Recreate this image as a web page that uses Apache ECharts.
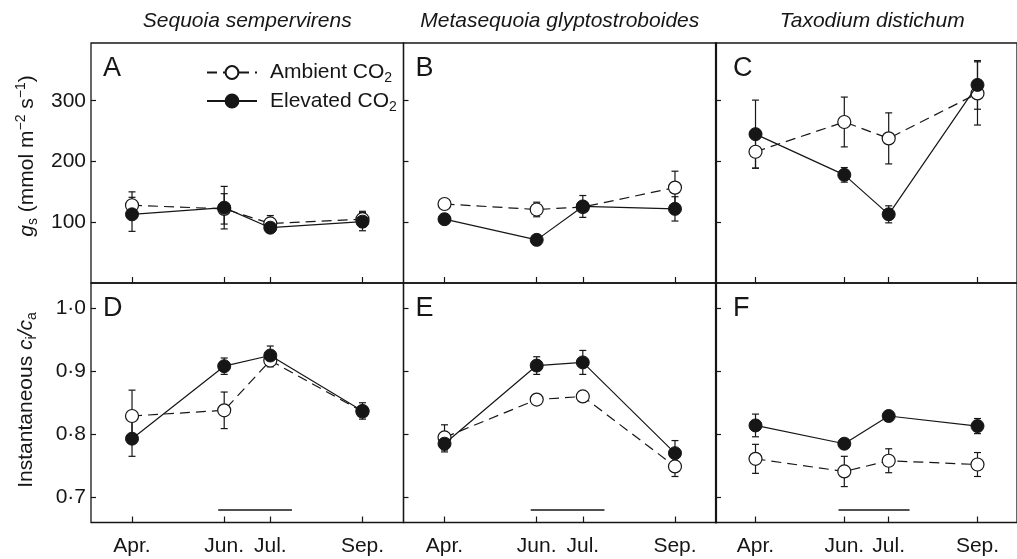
<!DOCTYPE html>
<html>
<head>
<meta charset="utf-8">
<script src="https://cdn.jsdelivr.net/npm/echarts@6/dist/echarts.min.js"></script>
<style>
  html, body { margin: 0; padding: 0; background: #fff; }
  #chart { width: 1017px; height: 559px; }
</style>
</head>
<body>
<div id="chart"></div>
<script>
// sampling months (x position in months) and their labels
const months = [4, 6, 7, 9];
const monthLabels = ['Apr.', 'Jun.', 'Jul.', 'Sep.'];

// stomatal conductance gs (mmol m-2 s-1), mean and error
const sequoiaGsAmb = [128, 122, 98, 105];
const sequoiaGsAmbErr = [22, 25, 13, 13];
const sequoiaGsElev = [113, 124, 91, 101];
const sequoiaGsElevErr = [28, 35, 6, 15];
const metaGsAmb = [130, 121, 125, 157];
const metaGsAmbErr = [4, 12, 8, 27];
const metaGsElev = [105, 71, 126, 122];
const metaGsElevErr = [4, 4, 18, 20];
const taxoGsAmb = [216, 265, 238, 312];
const taxoGsAmbErr = [27, 41, 42, 52];
const taxoGsElev = [245, 178, 113, 326];
const taxoGsElevErr = [56, 12, 14, 40];

// instantaneous ci/ca
const sequoiaCiAmb = [0.829, 0.838, 0.917, 0.836];
const sequoiaCiAmbErr = [0.041, 0.029, 0.01, 0.008];
const sequoiaCiElev = [0.793, 0.908, 0.925, 0.837];
const sequoiaCiElevErr = [0.028, 0.013, 0.015, 0.013];
const metaCiAmb = [0.795, 0.855, 0.860, 0.749];
const metaCiAmbErr = [0.020, 0.005, 0.005, 0.016];
const metaCiElev = [0.785, 0.909, 0.914, 0.770];
const metaCiElevErr = [0.013, 0.014, 0.019, 0.020];
const taxoCiAmb = [0.761, 0.741, 0.758, 0.752];
const taxoCiAmbErr = [0.023, 0.024, 0.019, 0.019];
const taxoCiElev = [0.814, 0.785, 0.829, 0.813];
const taxoCiElevErr = [0.018, 0.004, 0.004, 0.012];

// horizontal bar under the ci/ca panels
const periodX = [5.87, 7.47];
const periodY = 0.68;

const gsTicks = [100, 200, 300];
const ciTicks = [0.7, 0.8, 0.9, 1.0];

const species = ['Sequoia sempervirens', 'Metasequoia glyptostroboides', 'Taxodium distichum'];
const letters = ['A', 'B', 'C', 'D', 'E', 'F'];

const fontFam = '"Liberation Sans", Arial, Helvetica, sans-serif';
const ink = '#161616';

const panels = [
    { amb: sequoiaGsAmb, ambErr: sequoiaGsAmbErr, elev: sequoiaGsElev, elevErr: sequoiaGsElevErr },
    { amb: metaGsAmb, ambErr: metaGsAmbErr, elev: metaGsElev, elevErr: metaGsElevErr },
    { amb: taxoGsAmb, ambErr: taxoGsAmbErr, elev: taxoGsElev, elevErr: taxoGsElevErr },
    { amb: sequoiaCiAmb, ambErr: sequoiaCiAmbErr, elev: sequoiaCiElev, elevErr: sequoiaCiElevErr },
    { amb: metaCiAmb, ambErr: metaCiAmbErr, elev: metaCiElev, elevErr: metaCiElevErr },
    { amb: taxoCiAmb, ambErr: taxoCiAmbErr, elev: taxoCiElev, elevErr: taxoCiElevErr }
];

const colLeft = [91, 403.5, 716];
const panelW = 312.5;
const rowTop = [43, 283];
const rowH = [240, 239.5];

const chart = echarts.init(document.getElementById('chart'));

const grids = [], xAxes = [], yAxes = [], series = [], graphics = [];

function errData(vals, errs) {
    return months.map((m, k) => [m, vals[k] - errs[k], vals[k] + errs[k]]);
}

function renderErr(params, api) {
    const x = api.value(0);
    const lo = api.coord([x, api.value(1)]);
    const hi = api.coord([x, api.value(2)]);
    const w = 3.5;
    const st = { stroke: ink, lineWidth: 1.2 };
    return {
        type: 'group',
        children: [
            { type: 'line', shape: { x1: lo[0], y1: lo[1], x2: hi[0], y2: hi[1] }, style: st },
            { type: 'line', shape: { x1: lo[0] - w, y1: lo[1], x2: lo[0] + w, y2: lo[1] }, style: st },
            { type: 'line', shape: { x1: hi[0] - w, y1: hi[1], x2: hi[0] + w, y2: hi[1] }, style: st }
        ]
    };
}

panels.forEach((p, i) => {
    const row = Math.floor(i / 3);
    const col = i % 3;
    grids.push({
        left: colLeft[col], top: rowTop[row], width: panelW, height: rowH[row],
        show: true, borderColor: ink, borderWidth: 1.3, backgroundColor: 'transparent'
    });
    xAxes.push({
        type: 'value', gridIndex: i, min: 3.11, max: 9.89,
        axisLine: { show: false },
        splitLine: { show: false },
        axisTick: { inside: true, length: 6, customValues: months, lineStyle: { color: ink, width: 1.2 } },
        axisLabel: {
            show: row === 1, customValues: months, margin: 13,
            fontFamily: fontFam, fontSize: 21, color: ink,
            formatter: v => monthLabels[months.indexOf(v)]
        }
    });
    const ticks = row === 0 ? gsTicks : ciTicks;
    yAxes.push({
        type: 'value', gridIndex: i,
        min: row === 0 ? 0 : 0.66, max: row === 0 ? 395 : 1.04,
        axisLine: { show: col === 2, lineStyle: { color: ink, width: 2.2 } },
        splitLine: { show: false },
        axisTick: { inside: true, length: 5, customValues: ticks, lineStyle: { color: ink, width: 1.2 } },
        axisLabel: {
            show: col === 0, customValues: ticks, margin: 5,
            fontFamily: fontFam, fontSize: 21, color: ink,
            formatter: v => row === 0 ? String(v) : v.toFixed(1).replace('.', '\u00b7')
        }
    });
    series.push({
        type: 'custom', xAxisIndex: i, yAxisIndex: i, z: 1, silent: true,
        renderItem: renderErr, encode: { x: 0, y: [1, 2] },
        data: errData(p.amb, p.ambErr)
    });
    series.push({
        type: 'custom', xAxisIndex: i, yAxisIndex: i, z: 1, silent: true,
        renderItem: renderErr, encode: { x: 0, y: [1, 2] },
        data: errData(p.elev, p.elevErr)
    });
    series.push({
        name: 'Ambient', type: 'line', xAxisIndex: i, yAxisIndex: i, z: 2,
        symbol: 'circle', symbolSize: 13,
        itemStyle: { color: '#fff', borderColor: ink, borderWidth: 1.2 },
        lineStyle: { color: ink, width: 1.2, type: [10, 6] },
        data: months.map((m, k) => [m, p.amb[k]])
    });
    series.push({
        name: 'Elevated', type: 'line', xAxisIndex: i, yAxisIndex: i, z: 3,
        symbol: 'circle', symbolSize: 13,
        itemStyle: { color: ink, borderColor: ink, borderWidth: 1 },
        lineStyle: { color: ink, width: 1.2 },
        data: months.map((m, k) => [m, p.elev[k]])
    });
    if (row === 1) {
        series.push({
            type: 'line', xAxisIndex: i, yAxisIndex: i, z: 2, symbol: 'none', silent: true,
            lineStyle: { color: ink, width: 1.5 },
            data: periodX.map(x => [x, periodY])
        });
    }
    // panel letter
    graphics.push({
        type: 'text', left: colLeft[col] + (col === 2 ? 17 : 12), top: rowTop[row] + 12,
        style: { text: letters[i], fontFamily: fontFam, fontSize: 27, fill: ink }
    });
});

// species titles
species.forEach((s, c) => {
    graphics.push({
        type: 'text', x: colLeft[c] + panelW / 2, y: 21,
        style: {
            text: s, fontFamily: fontFam, fontSize: 21, fontStyle: 'italic', fill: ink,
            align: 'center', verticalAlign: 'middle'
        }
    });
});

const richBase = {
    n: { fontFamily: fontFam, fontSize: 21, lineHeight: 26, fill: ink, color: ink },
    i: { fontFamily: fontFam, fontSize: 21, lineHeight: 26, fontStyle: 'italic', fill: ink, color: ink },
    s: { fontFamily: fontFam, fontSize: 14, lineHeight: 14, verticalAlign: 'bottom', fill: ink, color: ink },
    p: { fontFamily: fontFam, fontSize: 14, lineHeight: 14, verticalAlign: 'top', fill: ink, color: ink }
};

// y axis titles
graphics.push({
    type: 'text', x: 27, y: 156, rotation: Math.PI / 2,
    style: {
        text: '{i|g}{s|s}{n| (mmol m}{p|\u22122}{n| s}{p|\u22121}{n|)}',
        rich: richBase, align: 'center', verticalAlign: 'middle'
    }
});
graphics.push({
    type: 'text', x: 26, y: 400, rotation: Math.PI / 2,
    style: {
        text: '{n|Instantaneous }{i|c}{s|i}{i|/c}{s|a}',
        rich: richBase, align: 'center', verticalAlign: 'middle'
    }
});

const option = {
    backgroundColor: '#fff',
    animation: false,
    grid: grids,
    xAxis: xAxes,
    yAxis: yAxes,
    legend: {
        data: ['Ambient', 'Elevated'],
        left: 201, top: 57, orient: 'vertical',
        itemWidth: 50, itemHeight: 16, itemGap: 5,
        selectedMode: false,
        formatter: name => name === 'Ambient' ? '{n|Ambient CO}{s|2}' : '{n|Elevated CO}{s|2}',
        textStyle: {
            rich: {
                n: { fontFamily: fontFam, fontSize: 21, lineHeight: 26, color: ink, padding: [0, 0, 0, 8] },
                s: { fontFamily: fontFam, fontSize: 14, lineHeight: 14, verticalAlign: 'bottom', color: ink }
            }
        }
    },
    graphic: graphics,
    series: series
};

chart.setOption(option);
</script>
</body>
</html>
